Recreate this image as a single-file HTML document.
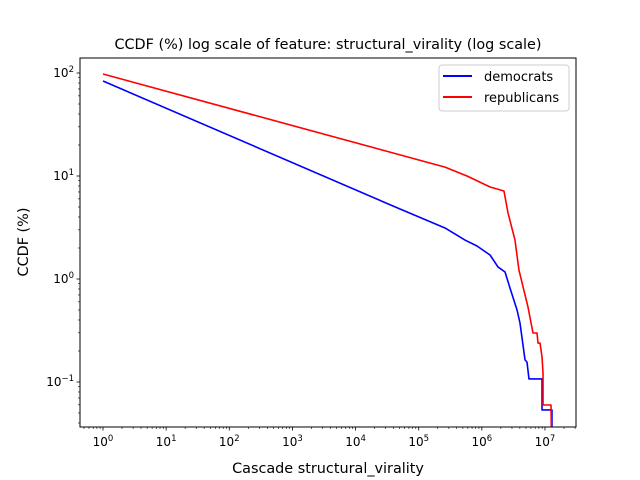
<!DOCTYPE html>
<html><head><meta charset="utf-8"><style>
body{margin:0;background:#fff;}
svg{display:block;font-family:"DejaVu Sans","Liberation Sans",sans-serif;}
</style></head><body>
<svg id="chart" width="640" height="480">
<rect width="640" height="480" fill="#fff"/>
<text x="328" y="49" text-anchor="middle" font-size="14.4">CCDF (%) log scale of feature: structural_virality (log scale)</text>
<defs><clipPath id="clip"><rect x="80" y="58" width="496" height="369"/></clipPath></defs>
<g id="ticks"></g>
<g id="series" clip-path="url(#clip)"></g>
<rect x="80" y="58" width="496" height="369" fill="none" stroke="#000" stroke-width="1"/>
<text x="328" y="473" text-anchor="middle" font-size="14.4">Cascade structural_virality</text>
<text transform="translate(28,242) rotate(-90)" text-anchor="middle" font-size="14.4">CCDF (%)</text>
<g>
<rect x="439" y="65" width="130" height="46" rx="3" fill="#fff" stroke="#ccc"/>
<line x1="443" y1="76" x2="472" y2="76" stroke="#0000ff" stroke-width="2"/>
<text x="484" y="81" font-size="13">democrats</text>
<line x1="443" y1="97" x2="472" y2="97" stroke="#ff0000" stroke-width="2"/>
<text x="484" y="102" font-size="13">republicans</text>
</g>
</svg>
<script>
const demX=[1,5.06e4,2.61e5,5.41e5,8.38e5,1.35e6,1.80e6,2.33e6,2.79e6,3.61e6,4.02e6,4.83e6,5.19e6,5.58e6,8.98e6,8.98e6,1.29e7,1.29e7];
const demY=[83.6,4.78,3.13,2.39,2.09,1.71,1.31,1.17,0.818,0.5,0.374,0.164,0.156,0.107,0.107,0.0535,0.0535,0.02];
const repX=[1,2.61e5,5.82e5,1.35e6,2.24e6,2.60e6,3.35e6,3.87e6,5.38e6,6.46e6,7.48e6,7.75e6,8.34e6,8.98e6,9.31e6,9.31e6,1.245e7,1.28e7];
const repY=[97.8,12.2,10.0,7.82,7.15,4.37,2.39,1.22,0.535,0.299,0.299,0.239,0.239,0.175,0.122,0.0598,0.0598,0.02];
const xTickExps=[0,1,2,3,4,5,6,7];
const yTickExps=[-1,0,1,2];
const NS='http://www.w3.org/2000/svg';
const X0=103,XD=63.14,Y0=279,YD=103;
function sx(v){return X0+Math.log10(v)*XD;}
function sy(v){return Y0-Math.log10(v)*YD;}
const tg=document.getElementById('ticks');
function mk(tag,at,parent){const e=document.createElementNS(NS,tag);for(const k in at)e.setAttribute(k,at[k]);parent.appendChild(e);return e;}
for(let e=-1;e<=7;e++){for(let m=1;m<10;m++){const x=sx(m*Math.pow(10,e));if(x<80||x>576)continue;
 const major=m===1;
 const t=mk('line',{x1:x,x2:x,y1:427,y2:427+(major?3.5:2),stroke:'#000','stroke-width':major?0.8:0.6},tg);
 
 }}
xTickExps.forEach(e=>{const x=sx(Math.pow(10,e));
 const t=mk('text',{x:x,y:446,'text-anchor':'middle','font-size':12},tg);
 
 
 t.innerHTML='10<tspan dy="-5" font-size="8.5">'+e+'</tspan>';});
for(let e=-2;e<=2;e++){for(let m=1;m<10;m++){const y=sy(m*Math.pow(10,e));if(y<58||y>427)continue;
 const major=m===1;
 const t=mk('line',{x1:80-(major?3.5:2),x2:80,y1:y,y2:y,stroke:'#000','stroke-width':major?0.8:0.6},tg);
 
 }}
yTickExps.forEach(e=>{const y=sy(Math.pow(10,e));
 const t=mk('text',{x:74,y:y+4,'text-anchor':'end','font-size':12},tg);
 
 
 t.innerHTML='10<tspan dy="-5" font-size="8.5">'+(e<0?'\u22121':e)+'</tspan>';});
const sg=document.getElementById('series');
function line(xs,ys,color,name){const d=xs.map((x,i)=>(i?'L':'M')+sx(x).toFixed(2)+','+sy(ys[i]).toFixed(2)).join('');
 const p=mk('path',{d:d,fill:'none',stroke:color,'stroke-width':1.6,'stroke-linejoin':'round'},sg);
 
 }
line(demX,demY,'#0000ff','democrats-line');
line(repX,repY,'#ff0000','republicans-line');
</script>
</body></html>
